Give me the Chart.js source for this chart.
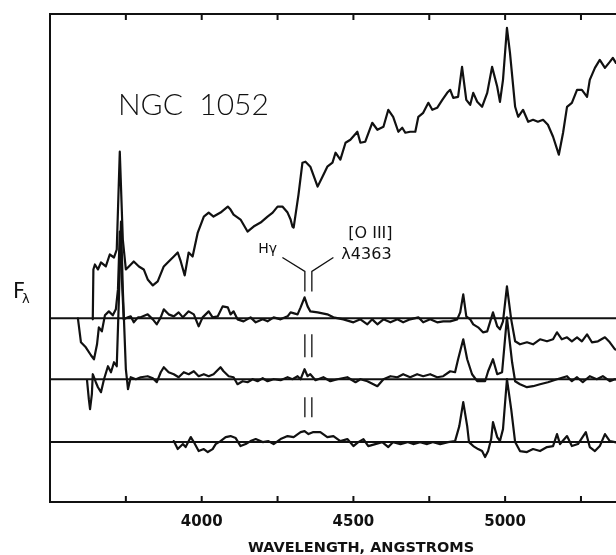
<!DOCTYPE html>
<html>
<head>
<meta charset="utf-8">
<script src="https://cdn.jsdelivr.net/npm/chart.js@4.4.0/dist/chart.umd.min.js"></script>
<style>
  html, body { margin: 0; padding: 0; background: #fff; overflow: hidden; }
  #wrap { width: 616px; height: 555px; overflow: hidden; }
</style>
</head>
<body>
<div id="wrap"><canvas id="spectrum" width="700" height="560"></canvas></div>
<script>
// NGC 1052 total spectrum (wavelength in A, flux in arbitrary units)
const totalWave = [3641,3643,3648,3658,3668,3684,3697,3711,3720,3730,
  3740,3750,3760,3776,3793,3809,3822,3839,3855,3875,
  3888,3908,3921,3931,3944,3957,3970,3987,4007,4023,
  4039,4062,4086,4095,4105,4128,4151,4171,4194,4217,
  4234,4250,4266,4283,4293,4299,4303,4319,4332,4342,
  4358,4382,4398,4414,4431,4441,4457,4474,4490,4513,
  4523,4539,4562,4579,4599,4615,4631,4648,4661,4671,
  4687,4704,4714,4730,4747,4760,4776,4793,4809,4819,
  4829,4845,4858,4872,4885,4895,4908,4924,4941,4957,
  4974,4983,4993,5006,5016,5033,5043,5059,5076,5092,
  5108,5125,5141,5158,5177,5191,5204,5220,5237,5253,
  5270,5279,5296,5312,5329,5345,5355,5365,5385];
const totalFlux = [18.3,23.3,23.8,23.3,24.0,23.6,24.8,24.5,25.3,35.1,
  26.3,23.3,23.6,24.1,23.6,23.3,22.3,21.7,22.1,23.6,
  24.0,24.6,25.0,24.1,22.7,25.0,24.6,27.0,28.6,29.0,
  28.6,29.0,29.6,29.3,28.8,28.3,27.1,27.6,28.0,28.6,
  29.0,29.6,29.6,29.0,28.3,27.6,27.5,30.8,34.0,34.1,
  33.6,31.6,32.6,33.6,34.0,35.0,34.3,36.0,36.3,37.1,
  36.0,36.1,38.0,37.3,37.6,39.3,38.6,37.1,37.5,37.0,
  37.1,37.1,38.6,39.0,40.0,39.3,39.5,40.3,41.0,41.3,
  40.5,40.6,43.6,40.3,39.8,41.0,40.1,39.6,41.0,43.6,
  41.6,40.1,42.3,47.5,45.0,39.6,38.6,39.3,38.1,38.3,
  38.1,38.3,37.8,36.6,34.8,37.0,39.6,40.0,41.3,41.3,
  40.6,42.3,43.5,44.3,43.5,44.1,44.5,44.0,44.8];

// first difference spectrum
const diff1Wave = [3592,3602,3618,3635,3645,3655,3661,3671,3681,3694,
  3707,3717,3724,3730,3737,3743,3757,3766,3776,3790,
  3799,3822,3839,3852,3865,3875,3891,3908,3924,3938,
  3957,3974,3990,4003,4023,4036,4053,4069,4086,4095,
  4105,4118,4138,4161,4178,4201,4217,4237,4260,4283,
  4293,4316,4326,4339,4349,4358,4382,4414,4434,4467,
  4500,4523,4546,4562,4579,4599,4622,4645,4664,4687,
  4714,4730,4753,4776,4796,4819,4842,4852,4862,4872,
  4885,4895,4911,4927,4941,4951,4960,4974,4983,4993,
  5006,5020,5033,5049,5072,5092,5115,5138,5158,5171,
  5187,5204,5220,5237,5253,5270,5286,5306,5329,5345,
  5362,5378];
const diff1Flux = [18.4,16.0,15.5,14.7,14.3,15.8,17.5,17.1,18.7,19.1,
  18.7,19.3,21.3,27.1,22.3,18.3,18.5,18.6,18.0,18.5,
  18.5,18.8,18.3,17.8,18.5,19.3,18.8,18.6,19.0,18.5,
  19.1,18.8,17.6,18.5,19.1,18.5,18.6,19.6,19.5,18.8,
  19.1,18.3,18.1,18.5,18.0,18.3,18.1,18.5,18.3,18.6,
  19.0,18.8,19.5,20.5,19.6,19.1,19.0,18.8,18.5,18.3,
  18.0,18.3,17.8,18.3,17.8,18.3,18.0,18.3,18.0,18.3,
  18.5,18.0,18.3,18.0,18.1,18.1,18.3,19.0,20.8,18.6,
  18.3,17.8,17.5,17.0,17.1,18.1,19.0,17.6,17.3,18.1,
  21.6,18.3,16.1,15.8,16.0,15.8,16.3,16.1,16.3,17.0,
  16.3,16.5,16.1,16.5,16.1,16.8,16.0,16.1,16.5,16.0,
  15.3,15.1];

// second difference spectrum
const diff2Wave = [3622,3628,3632,3638,3641,3651,3658,3668,3678,3691,
  3701,3711,3720,3727,3734,3740,3750,3757,3766,3783,
  3799,3822,3839,3852,3865,3875,3891,3908,3924,3941,
  3957,3974,3990,4007,4023,4039,4062,4072,4089,4105,
  4118,4135,4151,4168,4184,4201,4217,4237,4260,4283,
  4299,4316,4326,4339,4349,4358,4375,4401,4424,4447,
  4480,4507,4523,4546,4579,4599,4622,4645,4664,4687,
  4710,4730,4753,4776,4796,4819,4835,4845,4862,4875,
  4891,4908,4934,4944,4960,4974,4990,5006,5023,5033,
  5049,5072,5092,5115,5141,5171,5204,5220,5237,5256,
  5279,5302,5322,5345,5362,5378];
const diff2Flux = [12.2,10.3,9.3,10.8,12.8,12.0,11.5,11.0,12.3,13.6,
  13.0,14.0,13.6,20.3,28.1,21.3,13.3,11.3,12.5,12.3,
  12.5,12.6,12.4,12.0,13.0,13.5,13.0,12.8,12.5,13.0,
  12.8,13.1,12.6,12.8,12.6,12.8,13.5,13.1,12.6,12.5,
  11.8,12.1,12.0,12.3,12.1,12.4,12.1,12.3,12.2,12.5,
  12.3,12.6,12.3,13.3,12.6,12.8,12.2,12.5,12.1,12.3,
  12.5,12.0,12.3,12.1,11.6,12.3,12.6,12.5,12.8,12.5,
  12.8,12.6,12.8,12.5,12.6,13.1,13.0,14.3,16.3,14.3,
  12.8,12.1,12.1,13.1,14.3,12.8,13.0,18.5,14.0,12.1,
  11.8,11.5,11.6,11.8,12.0,12.3,12.6,12.1,12.5,12.0,
  12.6,12.3,12.6,12.1,12.3,12.2];

// third difference spectrum
const diff3Wave = [3908,3921,3938,3947,3964,3974,3990,4007,4020,4036,
  4046,4062,4079,4095,4112,4128,4145,4161,4178,4201,
  4220,4237,4260,4283,4303,4326,4339,4352,4368,4391,
  4414,4434,4457,4480,4500,4516,4533,4549,4572,4595,
  4615,4631,4655,4678,4697,4720,4743,4763,4786,4812,
  4835,4849,4862,4875,4881,4895,4911,4924,4934,4944,
  4954,4960,4974,4983,4993,5006,5020,5033,5049,5072,
  5092,5115,5138,5158,5171,5181,5204,5220,5240,5266,
  5279,5296,5312,5329,5345,5362,5378];
const diff3Flux = [6.1,5.3,5.8,5.5,6.5,6.0,5.1,5.3,5.0,5.3,
  5.8,6.1,6.5,6.6,6.4,5.6,5.8,6.1,6.3,6.0,
  6.1,5.8,6.3,6.6,6.5,7.0,7.1,6.8,7.0,7.0,
  6.5,6.6,6.1,6.3,5.6,6.0,6.3,5.6,5.8,6.0,
  5.5,6.0,5.8,6.0,5.8,6.0,5.8,6.0,5.8,6.0,
  6.1,7.6,10.0,7.6,6.0,5.6,5.3,5.1,4.5,5.1,
  6.3,8.0,6.5,6.1,7.3,12.3,9.3,6.0,5.1,5.0,
  5.3,5.1,5.5,5.6,6.8,5.8,6.6,5.6,5.8,7.0,
  5.5,5.1,5.6,6.8,6.1,6.0,5.8];

// zero levels of the difference spectra
const zeroLevels = [18.4, 12.3, 6.0];

// axis
const waveRange = [3500, 5550];
const fluxRange = [0, 48.9];
const tickValues = [3750, 4000, 4250, 4500, 4750, 5000, 5250, 5500];
const tickLabels = [4000, 4500, 5000, 5500];

// lines marked on the plot: H gamma and [O III] 4363
const hGamma = 4340;
const oiii4363 = 4363;

const ink = '#111';
const toPoints = (w, f) => w.map((x, i) => ({ x: x, y: f[i] }));

const traceStyle = { borderColor: ink, borderWidth: 2.2, pointRadius: 0, fill: false };

const datasets = [
  Object.assign({ label: 'NGC 1052', data: toPoints(totalWave, totalFlux) }, traceStyle),
  Object.assign({ label: 'diff 1', data: toPoints(diff1Wave, diff1Flux) }, traceStyle),
  Object.assign({ label: 'diff 2', data: toPoints(diff2Wave, diff2Flux) }, traceStyle),
  Object.assign({ label: 'diff 3', data: toPoints(diff3Wave, diff3Flux) }, traceStyle)
];
zeroLevels.forEach((z, i) => {
  datasets.push({
    label: 'zero ' + (i + 1),
    data: [{ x: waveRange[0], y: z }, { x: waveRange[1], y: z }],
    borderColor: ink, borderWidth: 2, pointRadius: 0, fill: false
  });
});

// inward tick marks, line markers and the text inside the frame
const decorations = {
  id: 'decorations',
  afterDatasetsDraw(chart) {
    const ctx = chart.ctx;
    const area = chart.chartArea;
    const xs = chart.scales.x;
    const ys = chart.scales.y;
    const X = v => xs.getPixelForValue(v);
    const Y = v => ys.getPixelForValue(v);

    ctx.save();
    ctx.strokeStyle = ink;
    ctx.fillStyle = ink;

    // ticks point into the plot, top and bottom
    ctx.lineWidth = 2;
    xs.ticks.forEach(t => {
      const px = X(t.value);
      ctx.beginPath();
      ctx.moveTo(px, area.bottom);
      ctx.lineTo(px, area.bottom - 6);
      ctx.moveTo(px, area.top);
      ctx.lineTo(px, area.top + 6);
      ctx.stroke();
    });

    // leaders to H gamma and [O III]
    ctx.lineWidth = 1.3;
    ctx.beginPath();
    ctx.moveTo(X(4266), Y(24.5));
    ctx.lineTo(X(hGamma), Y(23.1));
    ctx.lineTo(X(hGamma), Y(21.1));
    ctx.moveTo(X(4434), Y(24.5));
    ctx.lineTo(X(oiii4363), Y(23.1));
    ctx.lineTo(X(oiii4363), Y(21.1));
    // repeat marks over the lower traces
    [[16.8, 14.5], [10.5, 8.5]].forEach(seg => {
      [hGamma, oiii4363].forEach(w => {
        ctx.moveTo(X(w), Y(seg[0]));
        ctx.lineTo(X(w), Y(seg[1]));
      });
    });
    ctx.stroke();

    // labels
    ctx.textAlign = 'center';
    ctx.textBaseline = 'middle';
    ctx.font = '14px "DejaVu Sans"';
    ctx.fillText('H\u03b3', X(4217), Y(25.3));
    ctx.font = '16px "DejaVu Sans"';
    ctx.fillText('[O III]', X(4556), Y(26.9));
    ctx.fillText('\u03bb4363', X(4543), Y(24.8));

    ctx.textAlign = 'left';
    ctx.textBaseline = 'alphabetic';
    ctx.font = '300 30px Lato';
    ctx.fillText('NGC  1052', X(3724), Y(38.8));

    // y axis name, F lambda
    ctx.font = '21px "DejaVu Sans"';
    ctx.fillText('F', area.left - 37, 298);
    ctx.font = '13px "DejaVu Sans"';
    ctx.fillText('\u03bb', area.left - 28, 303);
    ctx.restore();
  }
};

const chart = new Chart(document.getElementById('spectrum'), {
  type: 'line',
  data: { datasets: datasets },
  options: {
    responsive: false,
    animation: false,
    layout: { padding: { left: 50, top: 14, right: 28, bottom: 5 } },
    elements: { line: { tension: 0, borderJoinStyle: 'round', borderCapStyle: 'round' } },
    plugins: { legend: { display: false }, tooltip: { enabled: false } },
    scales: {
      x: {
        type: 'linear',
        position: 'bottom',
        min: waveRange[0],
        max: waveRange[1],
        afterBuildTicks: scale => { scale.ticks = tickValues.map(v => ({ value: v })); },
        grid: { display: false, drawTicks: false },
        border: { display: true, color: ink, width: 2 },
        ticks: {
          autoSkip: false,
          maxRotation: 0,
          padding: 11,
          color: ink,
          font: { family: 'DejaVu Sans', size: 15, weight: 'bold' },
          callback: v => tickLabels.includes(v) ? String(v) : ''
        },
        title: {
          display: true,
          text: 'WAVELENGTH, ANGSTROMS',
          color: ink,
          font: { family: 'DejaVu Sans', size: 14.5, weight: 'bold', lineHeight: 0.9 },
          padding: { top: 0, bottom: 0 }
        }
      },
      xTop: {
        type: 'linear',
        position: 'top',
        min: waveRange[0],
        max: waveRange[1],
        grid: { display: false, drawTicks: false },
        border: { display: true, color: ink, width: 2 },
        ticks: { display: false }
      },
      y: {
        min: fluxRange[0],
        max: fluxRange[1],
        grid: { display: false, drawTicks: false },
        border: { display: true, color: ink, width: 2 },
        ticks: { display: false }
      }
    }
  },
  plugins: [decorations]
});
</script>
</body>
</html>
